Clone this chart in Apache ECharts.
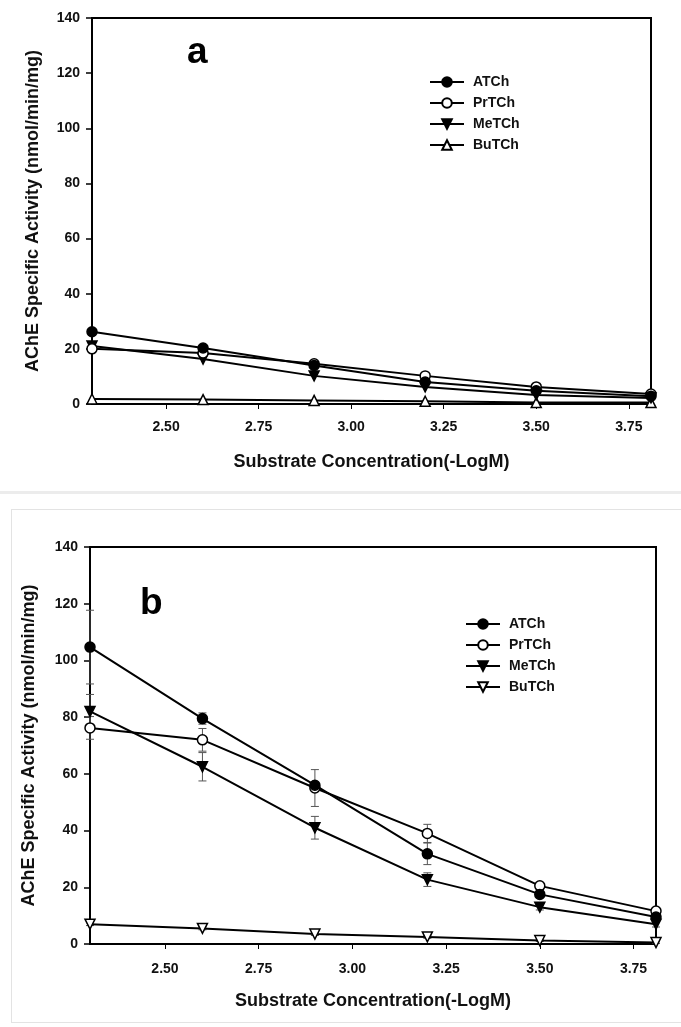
<!DOCTYPE html>
<html>
<head>
<meta charset="utf-8">
<script src="https://cdn.jsdelivr.net/npm/echarts@6/dist/echarts.min.js"></script>
<style>
html,body{margin:0;padding:0;background:#fff;width:681px;height:1027px;overflow:hidden;}
#sep{position:absolute;left:0;top:491px;width:681px;height:3px;background:#ececec;}
#ca{position:absolute;left:0;top:0;width:681px;height:491px;}
#boxb{position:absolute;left:11px;top:509px;width:680px;height:512px;border:1px solid #e3e3e3;}
#cb{position:absolute;left:0;top:0;width:680px;height:512px;}
</style>
</head>
<body>
<div id="ca"></div>
<div id="sep"></div>
<div id="boxb"><div id="cb"></div></div>
<script>
// ---- data ----
const xValues = [2.30, 2.60, 2.90, 3.20, 3.50, 3.81];
const xTickValues = [2.50, 2.75, 3.00, 3.25, 3.50, 3.75];
const seriesNames = ['ATCh', 'PrTCh', 'MeTCh', 'BuTCh'];

// Panel a
const aATCh  = [26.2, 20.3, 14.0, 8.0, 4.8, 2.8];
const aPrTCh = [20.0, 18.5, 14.6, 10.2, 6.2, 3.6];
const aMeTCh = [21.0, 16.3, 10.2, 6.2, 3.3, 2.2];
const aBuTCh = [1.8, 1.6, 1.3, 1.0, 0.5, 0.5];

// Panel b
const bATCh  = [104.7, 79.5, 56.0, 31.8, 17.5, 9.5];
const bPrTCh = [76.2, 72.0, 55.0, 39.0, 20.5, 11.6];
const bMeTCh = [82.0, 62.5, 41.0, 22.7, 13.0, 7.0];
const bBuTCh = [7.0, 5.5, 3.5, 2.5, 1.2, 0.5];
const bATChErr  = [13.0, 2.0, 0.0, 3.8, 1.0, 1.0];
const bPrTChErr = [4.0, 4.0, 6.5, 3.2, 1.0, 1.0];
const bMeTChErr = [6.0, 5.0, 4.0, 2.4, 1.0, 1.0];
const bBuTChErr = [0.5, 0.5, 0.5, 0.5, 0.3, 0.3];

const FONT = "'Liberation Sans', Arial, sans-serif";
const DOWN_TRI = 'path://M0,0 L10,0 L5,9 Z';

function pairs(vals) { return xValues.map((x, i) => [x, vals[i]]); }

function lineSeries(name, vals, symbol, filled) {
  return {
    type: 'line', name: name, data: pairs(vals),
    symbol: symbol, symbolSize: 10,
    lineStyle: { color: '#000', width: 2 },
    itemStyle: { color: filled ? '#000' : '#fff', borderColor: '#000', borderWidth: 1.5 },
    emphasis: { disabled: true }, animation: false, z: 3
  };
}

function errSeries(vals, errs) {
  return {
    type: 'custom', silent: true, animation: false, z: 2,
    data: xValues.map((x, i) => [x, vals[i], errs[i]]),
    renderItem: function (params, api) {
      const x = api.value(0), y = api.value(1), e = api.value(2);
      if (!e) return null;
      const top = api.coord([x, y + e]);
      const bot = api.coord([x, y - e]);
      const w = 4;
      const st = { stroke: '#555', lineWidth: 1 };
      return { type: 'group', children: [
        { type: 'line', shape: { x1: top[0], y1: top[1], x2: bot[0], y2: bot[1] }, style: st },
        { type: 'line', shape: { x1: top[0] - w, y1: top[1], x2: top[0] + w, y2: top[1] }, style: st },
        { type: 'line', shape: { x1: bot[0] - w, y1: bot[1], x2: bot[0] + w, y2: bot[1] }, style: st }
      ]};
    }
  };
}

function makeOption(g, series, letter, letterPos, legendPos, xNameGap, xLabelMargin, yNameGap) {
  return {
    animation: false,
    textStyle: { fontFamily: FONT },
    grid: { left: g.left, top: g.top, width: g.width, height: g.height, show: true,
            borderColor: '#000', borderWidth: 2, backgroundColor: 'transparent' },
    graphic: [{ type: 'text', left: letterPos[0], top: letterPos[1],
      style: { text: letter, font: 'bold 37px ' + FONT, fill: '#000' } }],
    legend: {
      data: seriesNames, orient: 'vertical', left: legendPos[0], top: legendPos[1],
      padding: 0, itemWidth: 34, itemHeight: 12, itemGap: 7,
      textStyle: { fontFamily: FONT, fontWeight: 'bold', fontSize: 14, color: '#111', padding: [0, 0, 0, 4] },
      selectedMode: false
    },
    xAxis: {
      type: 'value', min: 2.30, max: 3.81,
      name: 'Substrate Concentration(-LogM)', nameLocation: 'middle', nameGap: xNameGap,
      nameTextStyle: { fontFamily: FONT, fontWeight: 'bold', fontSize: 18, color: '#111' },
      axisLine: { show: true, onZero: false, lineStyle: { color: '#000', width: 2 } },
      axisTick: { show: true, customValues: xTickValues, length: 5, lineStyle: { color: '#000', width: 1 } },
      axisLabel: { customValues: xTickValues, margin: xLabelMargin, formatter: v => v.toFixed(2),
        fontFamily: FONT, fontWeight: 'bold', fontSize: 14, color: '#111' },
      splitLine: { show: false }
    },
    yAxis: {
      type: 'value', min: 0, max: 140, interval: 20,
      name: 'AChE Specific Activity (nmol/min/mg)', nameLocation: 'middle', nameGap: yNameGap,
      nameTextStyle: { fontFamily: FONT, fontWeight: 'bold', fontSize: 18, color: '#111' },
      axisLine: { show: true, lineStyle: { color: '#000', width: 2 } },
      axisTick: { show: true, length: 6, lineStyle: { color: '#000', width: 1.5 } },
      axisLabel: { margin: 12, fontFamily: FONT, fontWeight: 'bold', fontSize: 14, color: '#111' },
      splitLine: { show: false }
    },
    series: series
  };
}

const chartA = echarts.init(document.getElementById('ca'), null, { renderer: 'canvas' });
chartA.setOption(makeOption(
  { left: 92, top: 18, width: 559, height: 386 },
  [
    lineSeries('BuTCh', aBuTCh, 'triangle', false),
    lineSeries('MeTCh', aMeTCh, DOWN_TRI, true),
    lineSeries('PrTCh', aPrTCh, 'circle', false),
    lineSeries('ATCh', aATCh, 'circle', true)
  ],
  'a', [187, 34], [429, 75], 49, 16, 50
));

const chartB = echarts.init(document.getElementById('cb'), null, { renderer: 'canvas' });
chartB.setOption(makeOption(
  { left: 78, top: 37, width: 566, height: 397 },
  [
    errSeries(bATCh, bATChErr), errSeries(bPrTCh, bPrTChErr),
    errSeries(bMeTCh, bMeTChErr), errSeries(bBuTCh, bBuTChErr),
    lineSeries('BuTCh', bBuTCh, DOWN_TRI, false),
    lineSeries('MeTCh', bMeTCh, DOWN_TRI, true),
    lineSeries('PrTCh', bPrTCh, 'circle', false),
    lineSeries('ATCh', bATCh, 'circle', true)
  ],
  'b', [128, 75], [453, 107], 48, 18, 52
));
</script>
</body>
</html>
